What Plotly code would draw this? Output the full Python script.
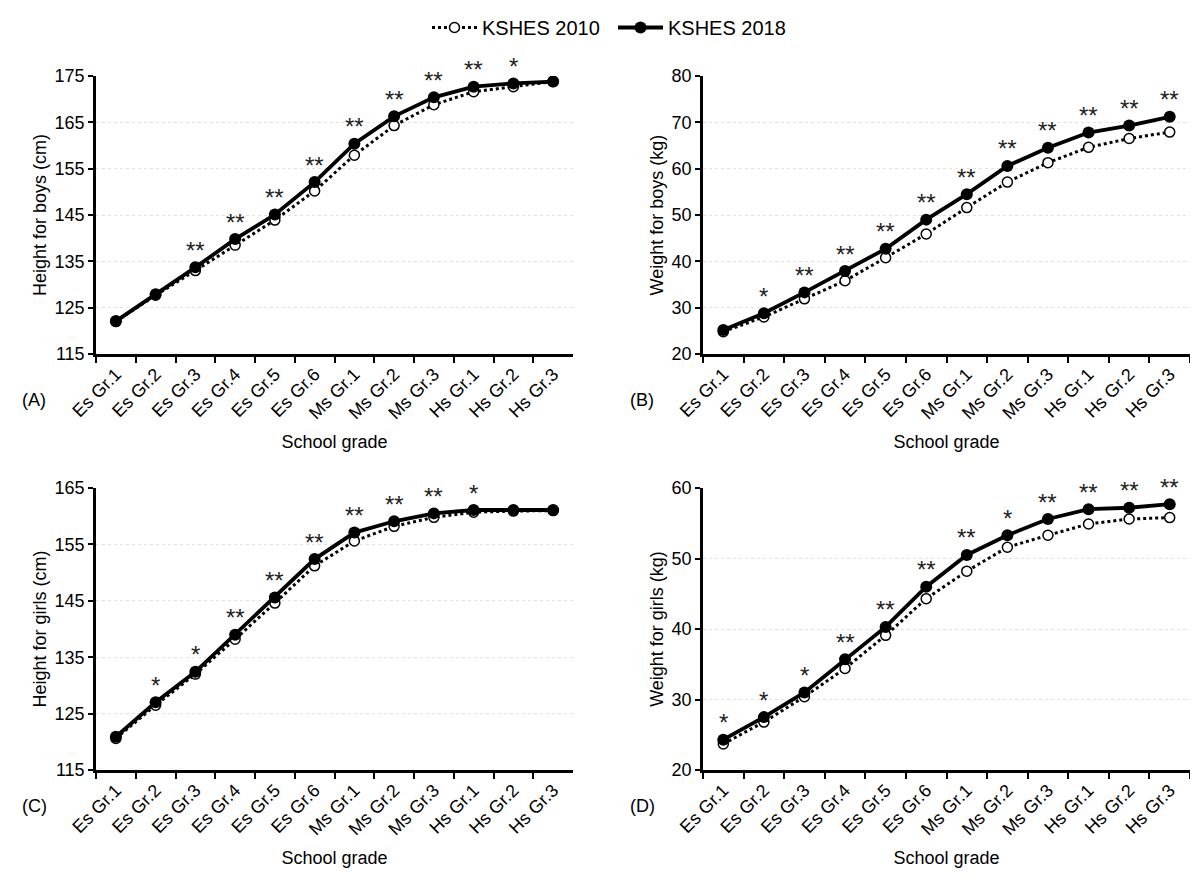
import plotly.graph_objects as go
from plotly.subplots import make_subplots

grades = ["Es Gr.1", "Es Gr.2", "Es Gr.3", "Es Gr.4", "Es Gr.5", "Es Gr.6",
          "Ms Gr.1", "Ms Gr.2", "Ms Gr.3", "Hs Gr.1", "Hs Gr.2", "Hs Gr.3"]

# (A) height for boys
height_boys_2010 = [122.0, 127.7, 133.0, 138.5, 143.9, 150.2, 157.9, 164.3, 168.8, 171.6, 172.7, 173.8]
height_boys_2018 = [122.1, 127.9, 133.7, 139.8, 145.1, 152.1, 160.4, 166.3, 170.4, 172.7, 173.4, 173.8]
height_boys_sig = ["", "", "**", "**", "**", "**", "**", "**", "**", "**", "*", ""]

# (B) weight for boys
weight_boys_2010 = [24.8, 28.0, 31.9, 35.8, 40.8, 45.9, 51.6, 57.1, 61.3, 64.6, 66.5, 67.9]
weight_boys_2018 = [25.2, 28.8, 33.3, 37.9, 42.7, 49.0, 54.5, 60.6, 64.5, 67.8, 69.3, 71.2]
weight_boys_sig = ["", "*", "**", "**", "**", "**", "**", "**", "**", "**", "**", "**"]

# (C) height for girls
height_girls_2010 = [120.6, 126.5, 132.0, 138.2, 144.6, 151.2, 155.6, 158.2, 159.8, 160.7, 160.9, 161.0]
height_girls_2018 = [120.9, 127.0, 132.4, 139.0, 145.6, 152.4, 157.1, 159.1, 160.5, 161.1, 161.1, 161.1]
height_girls_sig = ["", "*", "*", "**", "**", "**", "**", "**", "**", "*", "", ""]

# (D) weight for girls
weight_girls_2010 = [23.7, 26.8, 30.4, 34.4, 39.1, 44.3, 48.2, 51.6, 53.3, 54.9, 55.6, 55.8]
weight_girls_2018 = [24.3, 27.5, 31.0, 35.7, 40.3, 46.0, 50.5, 53.3, 55.6, 57.0, 57.2, 57.7]
weight_girls_sig = ["*", "*", "*", "**", "**", "**", "**", "*", "**", "**", "**", "**"]

panels = [
    (1, 1, height_boys_2010, height_boys_2018, height_boys_sig, "Height for boys (cm)", [115, 175], "(A)"),
    (1, 2, weight_boys_2010, weight_boys_2018, weight_boys_sig, "Weight for boys (kg)", [20, 80], "(B)"),
    (2, 1, height_girls_2010, height_girls_2018, height_girls_sig, "Height for girls (cm)", [115, 165], "(C)"),
    (2, 2, weight_girls_2010, weight_girls_2018, weight_girls_sig, "Weight for girls (kg)", [20, 60], "(D)"),
]

# page has an 8px body margin, so the figure is made 8px smaller and positions offset
OFF = 8
W, H = 1198 - OFF, 885 - OFF
FONT = "Liberation Sans, Arial, sans-serif"


def px(x):
    return (x - OFF) / W


def py(y):
    return 1 - (y - OFF) / H


fig = make_subplots(rows=2, cols=2)

xdom = {1: [px(96), px(573)], 2: [px(703), px(1190)]}
ydom = {1: [py(354), py(76)], 2: [py(770), py(488)]}
label_pos = {(1, 1): (20, 400), (1, 2): (628, 400), (2, 1): (20, 806), (2, 2): (628, 806)}

for row, col, v10, v18, sig, ytitle, yrange, label in panels:
    first = row == 1 and col == 1
    fig.add_trace(go.Scatter(
        x=grades, y=v10, name="KSHES 2010", mode="lines+markers",
        line=dict(color="black", width=3, dash="dot"),
        marker=dict(symbol="circle", size=10, color="white", line=dict(color="black", width=1.5)),
        showlegend=first, legendrank=1), row=row, col=col)
    fig.add_trace(go.Scatter(
        x=grades, y=v18, name="KSHES 2018", mode="lines+markers",
        line=dict(color="black", width=3.8),
        marker=dict(symbol="circle", size=12, color="black"),
        showlegend=first, legendrank=2), row=row, col=col)

    for g, a, b, s in zip(grades, v10, v18, sig):
        if s:
            fig.add_annotation(x=g, y=max(a, b), text=s, showarrow=False,
                               yshift=17, font=dict(size=24, color="#222", family=FONT),
                               row=row, col=col)

    fig.update_xaxes(domain=xdom[col], type="category", categoryorder="array",
                     categoryarray=grades, range=[-0.5, 11.5], automargin=False,
                     tickson="boundaries", ticks="outside", ticklen=6, tickwidth=2,
                     tickcolor="black", tickangle=-45,
                     showline=True, linecolor="black", linewidth=2.5, showgrid=False,
                     tickfont=dict(size=18, family=FONT, color="black"),
                     title=dict(text="School grade", standoff=14,
                                font=dict(size=18, family=FONT, color="black")),
                     row=row, col=col)
    fig.update_yaxes(domain=ydom[row], range=yrange, dtick=10, tick0=yrange[0],
                     automargin=False,
                     ticks="outside", ticklen=5, tickwidth=2, tickcolor="black",
                     showline=True, linecolor="black", linewidth=2.5,
                     showgrid=True, gridcolor="#e2e2e2", griddash="dot", gridwidth=1,
                     zeroline=False,
                     tickfont=dict(size=18, family=FONT, color="black"),
                     title=dict(text=ytitle, standoff=4,
                                font=dict(size=18, family=FONT, color="black")),
                     row=row, col=col)

    lx, ly = label_pos[(row, col)]
    fig.add_annotation(xref="paper", yref="paper", x=px(lx), y=py(ly),
                       xanchor="left", yanchor="middle", text=label, showarrow=False,
                       font=dict(size=18, family=FONT, color="black"))

fig.update_layout(
    width=W, height=H,
    margin=dict(l=0, r=0, t=0, b=0),
    plot_bgcolor="white", paper_bgcolor="white",
    font=dict(family=FONT, color="black"),
    legend=dict(orientation="h", x=px(427), xanchor="left", y=1, yanchor="top",
                font=dict(size=20, family=FONT, color="black"), itemwidth=45,
                entrywidth=126, traceorder="normal"),
)

fig.write_html("out.html")
